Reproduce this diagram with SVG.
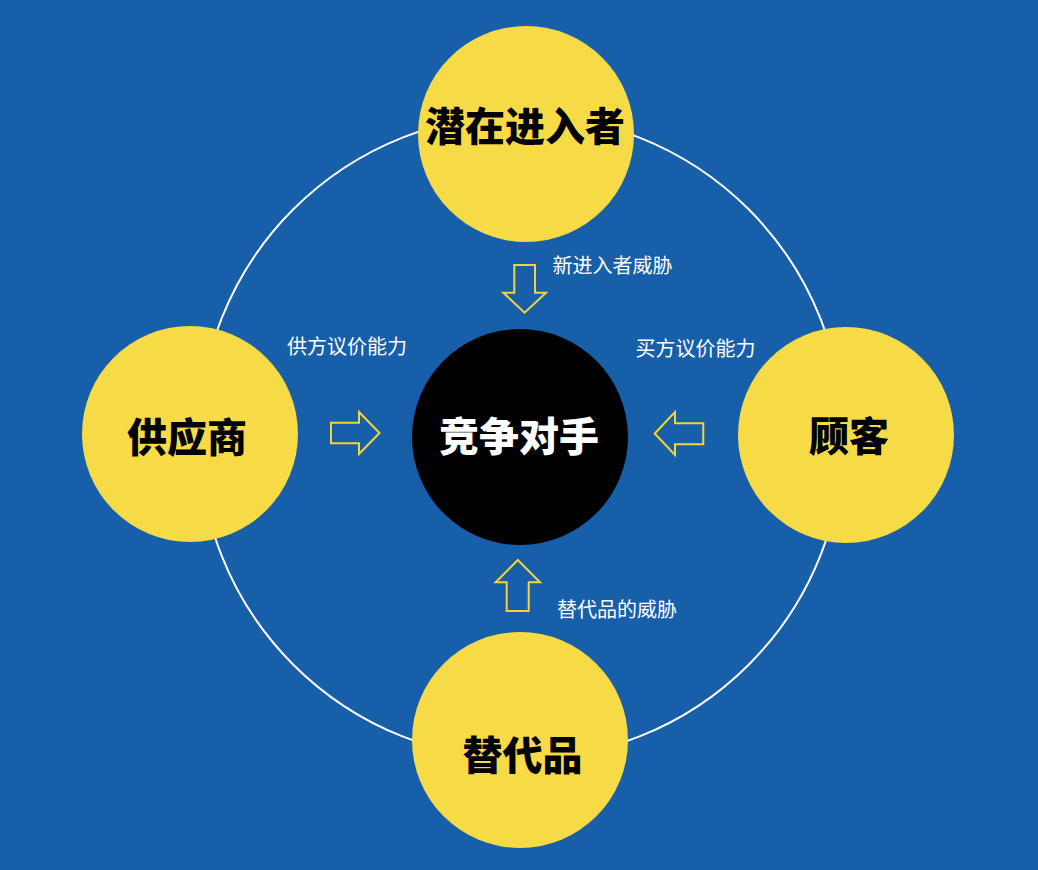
<svg xmlns="http://www.w3.org/2000/svg" width="1038" height="870" viewBox="0 0 1038 870">
<style>
.bg{fill:#175FA9}
.ring{fill:none;stroke:#FFFFFF;stroke-width:2}
.node{fill:#F7DB46}
.core{fill:#000000}
.big{font-family:"Noto Sans CJK SC","Noto Sans CJK JP",sans-serif;font-size:40px;font-weight:900;text-anchor:middle;dominant-baseline:central;fill:#000000}
.bigw{fill:#FFFFFF}
.lbl{font-family:"Noto Sans CJK SC","Noto Sans CJK JP",sans-serif;font-size:20px;font-weight:400;text-anchor:middle;dominant-baseline:central;fill:#FFFFFF}
.arr{fill:none;stroke:#F5D33B;stroke-width:2;stroke-linejoin:miter}
</style>
<rect class="bg" x="0" y="0" width="1038" height="870"/>
<g id="connectors">
<circle class="ring" cx="521" cy="437" r="322"/>
<polygon class="arr" points="514.3,265 535,265 535,292.7 546,292.7 524.6,312.7 503.3,292.7 514.3,292.7"/>
<polygon class="arr" points="331,422.7 359,422.7 359,412 379.5,433 359,454 359,443.3 331,443.3"/>
<polygon class="arr" points="703.3,423.3 675,423.3 675,412 654.7,433.5 675,455 675,444.3 703.3,444.3"/>
<polygon class="arr" points="517.8,560 540,582.3 528.7,582.3 528.7,611 506.7,611 506.7,582.3 495.7,582.3"/>
<text class="lbl" x="612.5" y="264">新进入者威胁</text>
<text class="lbl" x="347" y="345">供方议价能力</text>
<text class="lbl" x="695.5" y="347">买方议价能力</text>
<text class="lbl" x="617" y="608.5">替代品的威胁</text>
</g>
<g id="node-top">
<circle class="node" cx="526" cy="134" r="108"/>
<text class="big" x="525" y="124">潜在进入者</text>
</g>
<g id="node-left">
<circle class="node" cx="190" cy="434" r="108"/>
<text class="big" x="187" y="435">供应商</text>
</g>
<g id="node-right">
<circle class="node" cx="846" cy="435" r="108"/>
<text class="big" x="849" y="434">顾客</text>
</g>
<g id="node-bottom">
<circle class="node" cx="520" cy="740" r="108"/>
<text class="big" x="522.5" y="753">替代品</text>
</g>
<g id="node-center">
<circle class="core" cx="520" cy="437" r="108"/>
<text class="big bigw" x="519" y="434">竞争对手</text>
</g>
</svg>
